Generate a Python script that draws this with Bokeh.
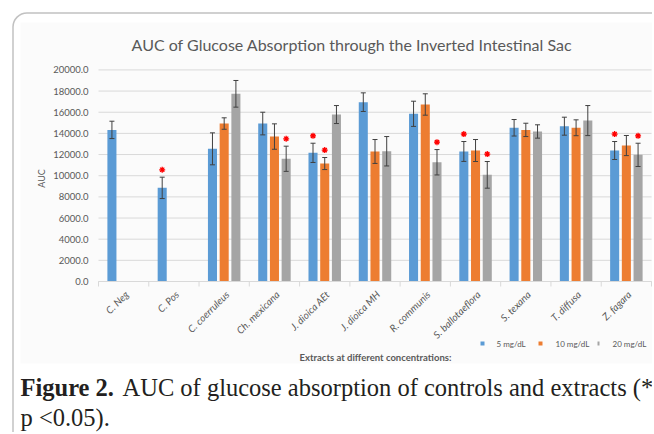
import math
from bokeh.plotting import figure
from bokeh.models import ColumnDataSource, Range1d, Label, BoxAnnotation
from bokeh.embed import file_html
from bokeh.resources import INLINE
from bokeh.core.properties import value

categories = ["C. Neg", "C. Pos", "C. coerruleus", "Ch. mexicana", "J. dioica AEt",
              "J. dioica MH", "R. communis", "S. ballotaeflora", "S. texana",
              "T. diffusa", "Z. fagara"]

series_names = ["5 mg/dL", "10 mg/dL", "20 mg/dL"]

auc_5 = [14330, 8850, 12540, 14930, 12160, 16950, 15850, 12290, 14530, 14680, 12380]
sd_5 = [820, 1010, 1510, 1070, 910, 880, 1190, 940, 780, 850, 850]
sig_5 = [0, 1, 0, 0, 1, 0, 0, 1, 0, 0, 1]

auc_10 = [None, None, 14930, 13700, 11150, 12290, 16730, 12380, 14330, 14530, 12850]
sd_10 = [None, None, 540, 1200, 570, 1130, 1010, 1040, 630, 750, 950]
sig_10 = [0, 0, 0, 0, 1, 0, 0, 0, 0, 0, 0]

auc_20 = [None, None, 17740, 11600, 15780, 12310, 11270, 10080, 14180, 15210, 11970]
sd_20 = [None, None, 1260, 1190, 850, 1390, 1200, 1260, 630, 1420, 1100]
sig_20 = [0, 0, 0, 1, 0, 0, 1, 1, 0, 0, 1]

y_ticks = list(range(0, 20001, 2000))

colors = ["#5B9BD5", "#ED7D31", "#A5A5A5"]
offsets = [-0.233, 0.0, 0.233]
GRAY_TXT = "#595959"
GRID = "#d9d9d9"
FONT = "Lato"

# page geometry (pixels)
W, H = 652, 432
FL, FR, FT, FB = 98, 651, 69.4, 281
NCAT = len(categories)
CW = (FR - FL) / NCAT            # px per category
PY = (FB - FT) / 20000.0         # px per AUC unit

p = figure(width=W, height=H, output_backend="svg", toolbar_location=None,
           x_axis_type=None, y_axis_type=None,
           x_range=Range1d(-FL / CW, (W - FL) / CW),
           y_range=Range1d(-(H - FB) / PY, 20000 + FT / PY),
           min_border=0)
p.outline_line_color = None
p.border_fill_color = "white"
p.background_fill_color = "white"

def sx(x):
    return x
def sy(y):
    return H - y

def screen_box(l, r, t, b, **kw):
    return BoxAnnotation(left=sx(l), right=sx(r), top=sy(t), bottom=sy(b),
                         left_units="screen", right_units="screen",
                         top_units="screen", bottom_units="screen", **kw)

# light background of the chart picture
p.add_layout(screen_box(20, W + 10, 22, 363, fill_color="#fbfbfb", fill_alpha=1,
                        line_color=None, level="underlay"))

cat_x = [i + 0.5 for i in range(NCAT)]

# value axis: grid lines and tick labels
gsrc = ColumnDataSource(dict(y=y_ticks, lab=["%.1f" % t for t in y_ticks]))
p.segment(x0=0, x1=NCAT, y0="y", y1="y", source=gsrc, line_color=GRID, line_width=1)
p.text(x=0, y="y", text="lab", source=gsrc, x_offset=-10, text_align="right",
       text_baseline="middle", text_font=value(FONT), text_font_size="9.5px",
       text_color=GRAY_TXT)

# category axis: boundary ticks and rotated labels
bounds = list(range(NCAT + 1))
p.segment(x0=bounds, x1=bounds, y0=[0] * len(bounds), y1=[-5 / PY] * len(bounds),
          line_color=GRID, line_width=1)
csrc = ColumnDataSource(dict(x=cat_x, lab=categories))
p.text(x="x", y=0, text="lab", source=csrc, angle=math.pi / 4, x_offset=3, y_offset=11,
       text_align="right", text_baseline="middle", text_font=value(FONT),
       text_font_style="italic", text_font_size="10px", text_color=GRAY_TXT)

all_auc = [auc_5, auc_10, auc_20]
all_sd = [sd_5, sd_10, sd_20]
all_sig = [sig_5, sig_10, sig_20]

for auc, sd, sig, col, off in zip(all_auc, all_sd, all_sig, colors, offsets):
    xs, tops, ups, lows = [], [], [], []
    star_x, star_y = [], []
    for cx, v, s, g in zip(cat_x, auc, sd, sig):
        if v is None:
            continue
        xs.append(cx + off)
        tops.append(v)
        ups.append(v + s)
        lows.append(v - s)
        if g:
            star_x.append(cx + off)
            star_y.append(v + s + 700)
    src = ColumnDataSource(dict(x=xs, top=tops, upper=ups, lower=lows))
    p.vbar(x="x", top="top", width=0.18, source=src, fill_color=col, line_color=None)
    p.segment(x0="x", y0="lower", x1="x", y1="upper", source=src,
              line_color="#404040", line_width=1)
    p.scatter(x="x", y="upper", source=src, marker="dash", size=5,
              line_color="#404040", line_width=1)
    p.scatter(x="x", y="lower", source=src, marker="dash", size=5,
              line_color="#404040", line_width=1)
    ssrc = ColumnDataSource(dict(x=star_x, y=star_y))
    p.scatter(x="x", y="y", source=ssrc, marker="asterisk", size=6,
              line_color="#ff0000", line_width=1.3)

# x axis line
p.segment(x0=[0], x1=[NCAT], y0=[0], y1=[0], line_color=GRID, line_width=1)

def lab(x, y, text, size, **kw):
    d = dict(x=sx(x), y=sy(y), x_units="screen", y_units="screen", text=text,
             text_font=FONT, text_font_size=size, text_color=GRAY_TXT)
    d.update(kw)
    p.add_layout(Label(**d))

lab(351.5, 44, "AUC of Glucose Absorption through the Inverted Intestinal Sac", "16px",
    text_align="center", text_baseline="middle")
lab(41, 178, "AUC", "9px", angle=math.pi / 2, text_align="center", text_baseline="middle")
lab(375, 357, "Extracts at different concentrations:", "9.5px", text_font_style="bold",
    text_align="center", text_baseline="middle")

# legend
for (l, r), col in zip([(480, 484), (538, 542), (597, 599)], colors):
    p.add_layout(screen_box(l, r, 341, 345, fill_color=col, fill_alpha=1,
                            line_color=None))
for tx, name in zip([496, 555, 612], series_names):
    lab(tx, 343, name, "8px", text_align="left", text_baseline="middle")

# caption
cap = dict(text_font="Liberation Serif", text_color="#231f20",
           text_align="left", text_baseline="alphabetic")
lab(20, 387, "Figure 2.", "24.5px", text_font_style="bold", **cap)
lab(122, 387, "AUC of glucose absorption of controls and extracts (*", "24.5px", **cap)
lab(20, 417, "p <0.05).", "24.5px", **cap)

# rounded page frame
p.add_layout(screen_box(12.5, W + 40, 12.5, H + 40, fill_alpha=0, line_color="#333333",
                        line_width=1.5, border_radius=14, level="overlay"))

open("out.html", "w").write(file_html(p, INLINE))
